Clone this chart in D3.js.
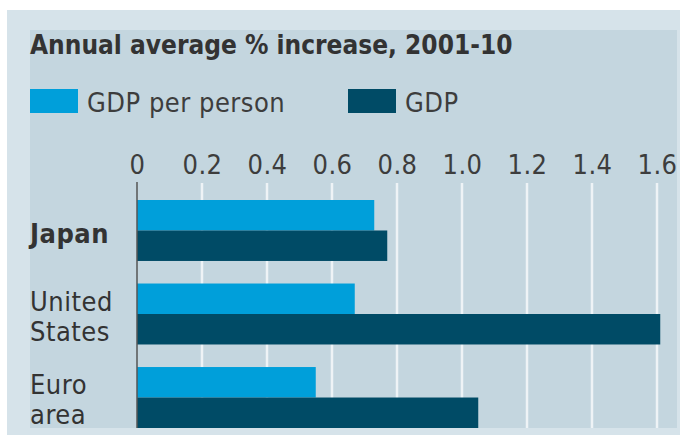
<!DOCTYPE html>
<html>
<head>
<meta charset="utf-8">
<script src="https://cdn.jsdelivr.net/npm/d3@7"></script>
<style>
  body { margin: 0; background: #fff; }
  svg { display: block; }
  text { font-family: "DejaVu Sans Condensed", "DejaVu Sans", sans-serif; fill: #3d3d3d; }
</style>
</head>
<body>
<div id="chart"></div>
<script>
// data
const categories = [["Japan"], ["United", "States"], ["Euro", "area"]]
const boldCats = [true, false, false]
const gdpPerPerson = [0.73, 0.67, 0.55]
const gdp = [0.77, 1.61, 1.05]
const seriesNames = ["GDP per person", "GDP"]
const xTicks = [0, 0.2, 0.4, 0.6, 0.8, 1.0, 1.2, 1.4, 1.6]
const tickLabels = ["0", "0.2", "0.4", "0.6", "0.8", "1.0", "1.2", "1.4", "1.6"]

const width = 680, height = 437
const colors = { light: "#009fda", dark: "#004b66", outer: "#d6e3ea", panel: "#c4d6df", grid: "#eef3f6" }
const fs = 27

const svg = d3.select("#chart").append("svg")
    .attr("width", width)
    .attr("height", height)

//backgrounds
svg.append("rect").attr("x", 7).attr("y", 10).attr("width", 673).attr("height", 425).attr("fill", colors.outer)
svg.append("rect").attr("x", 30).attr("y", 30).attr("width", 647).attr("height", 398).attr("fill", colors.panel)

const x = d3.scaleLinear().domain([0, 1.6]).range([137, 657])
const y = d3.scaleBand().domain(d3.range(categories.length)).range([200, 428]).paddingInner(0.27).paddingOuter(0)
const sub = d3.scaleBand().domain([0, 1]).range([0, y.bandwidth()])

// title
svg.append("text")
    .attr("x", 30).attr("y", 54)
    .attr("font-size", 26).attr("font-weight", "bold")
    .style("fill", "#333")
    .text("Annual average % increase, 2001-10")

// legend
const legendX = [30, 348]
seriesNames.forEach((name, i) => {
    svg.append("rect")
        .attr("x", legendX[i]).attr("y", 89)
        .attr("width", 48).attr("height", 24)
        .attr("fill", i === 0 ? colors.light : colors.dark)
    svg.append("text")
        .attr("x", legendX[i] + 57).attr("y", 112)
        .attr("font-size", fs)
        .attr("letter-spacing", 0.5)
        .text(name)
})

// gridlines
svg.append("g").selectAll("line")
    .data(xTicks.slice(1))
    .join("line")
    .attr("x1", d => x(d)).attr("x2", d => x(d))
    .attr("y1", 183).attr("y2", 428)
    .attr("stroke", colors.grid).attr("stroke-width", 2.5)

// tick labels via axis
const axis = svg.append("g")
    .attr("transform", "translate(0,174)")
    .call(d3.axisTop(x).tickValues(xTicks).tickFormat((d, i) => tickLabels[i]).tickSize(0).tickPadding(0))
axis.select(".domain").remove()
axis.selectAll("text")
    .attr("font-size", fs)
    .attr("letter-spacing", 0.5)
    .attr("font-family", null)
    .attr("fill", null)
    .attr("dy", 0)

// bars
const groups = svg.append("g").selectAll("g")
    .data(categories.map((c, i) => i))
    .join("g")
    .attr("transform", i => `translate(0,${y(i)})`)

groups.append("rect")
    .attr("x", x(0)).attr("y", sub(0))
    .attr("width", i => x(gdpPerPerson[i]) - x(0))
    .attr("height", sub.bandwidth())
    .attr("fill", colors.light)

groups.append("rect")
    .attr("x", x(0)).attr("y", sub(1))
    .attr("width", i => x(gdp[i]) - x(0))
    .attr("height", sub.bandwidth())
    .attr("fill", colors.dark)

// zero axis line
svg.append("line")
    .attr("x1", x(0)).attr("x2", x(0))
    .attr("y1", 182).attr("y2", 428)
    .attr("stroke", "#555").attr("stroke-width", 1.5)

// category labels
groups.each(function(i) {
    const lines = categories[i]
    const t = d3.select(this).append("text")
        .attr("x", 30)
        .attr("font-size", fs)
        .attr("letter-spacing", 0.5)
        .attr("font-weight", boldCats[i] ? "bold" : "normal")
        .style("fill", "#333")
    const baseY = lines.length === 1 ? 43 : 27
    lines.forEach((l, j) => {
        t.append("tspan").attr("x", 30).attr("y", baseY + j * 30).text(l)
    })
})
</script>
</body>
</html>
